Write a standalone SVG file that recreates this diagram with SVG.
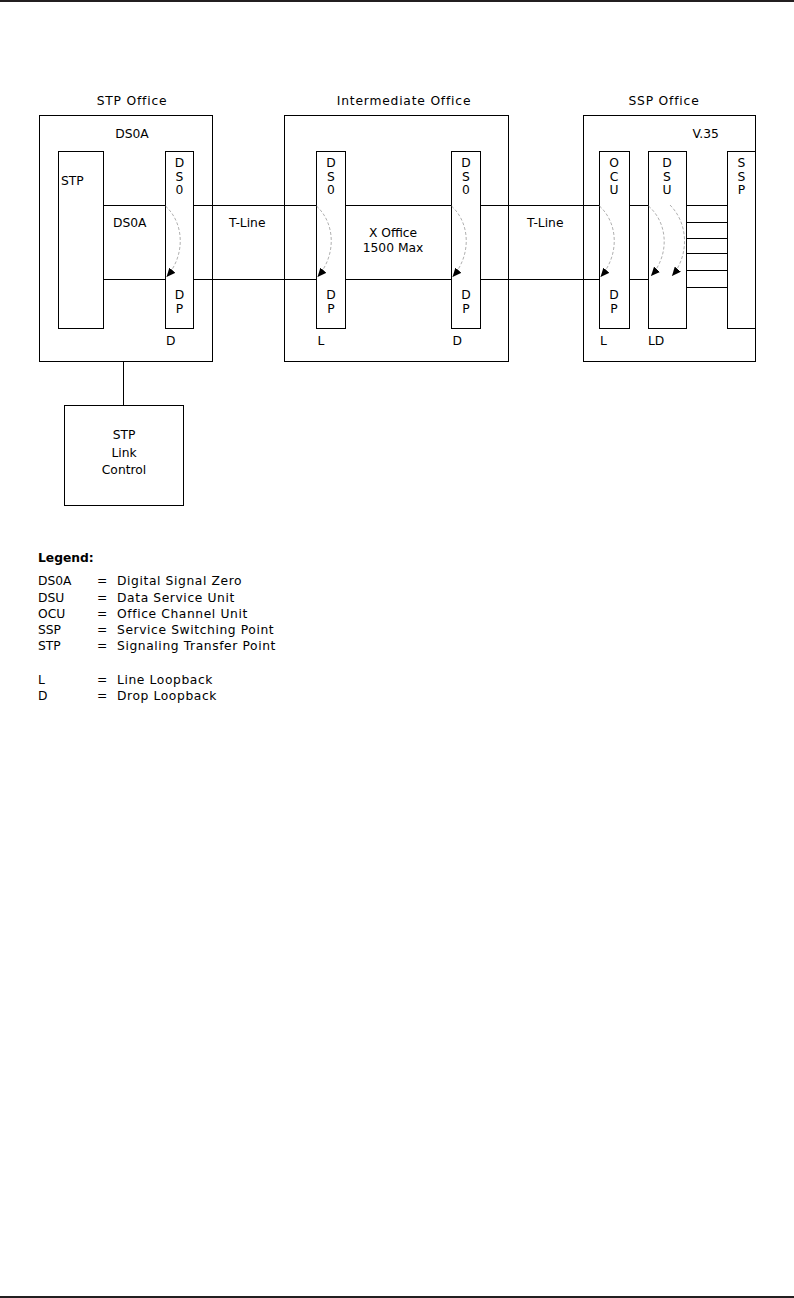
<svg xmlns="http://www.w3.org/2000/svg" width="794" height="1298" viewBox="0 0 794 1298">
<style>
.box{fill:none;stroke:#000;stroke-width:1}
.ln{fill:none;stroke:#000;stroke-width:1}
.arc{fill:none;stroke:#9a9a9a;stroke-width:0.8;stroke-dasharray:3,2}
text{font-family:"DejaVu Sans","Liberation Sans",sans-serif;font-size:12.3px;fill:#000}
.t{letter-spacing:0.8px}
.m{text-anchor:middle}
.lg{letter-spacing:0.6px}
.b{font-weight:bold}
</style>
<defs>
<marker id="ah" markerUnits="userSpaceOnUse" markerWidth="9" markerHeight="8" refX="9" refY="4" orient="auto">
<path d="M0,0 L9,4 L0,8 z" fill="#000"/>
</marker>
</defs>
<rect x="0" y="0" width="794" height="2" fill="#231f20"/>
<rect x="0" y="1296" width="794" height="2" fill="#231f20"/>

<g id="stp-office">
<rect class="box" x="39.5" y="115.5" width="173" height="246"/>
<text class="m t" x="132" y="105">STP Office</text>
<text class="m" x="132" y="138">DS0A</text>
</g>
<g id="stp">
<rect class="box" x="58.5" y="151.5" width="45" height="177"/>
<text x="61" y="185">STP</text>
</g>
<g id="ds0-stp">
<rect class="box" x="165.5" y="151.5" width="28" height="177"/>
<text class="m" x="179.5" y="167">D</text>
<text class="m" x="179.5" y="181">S</text>
<text class="m" x="179.5" y="194">0</text>
<text class="m" x="179.5" y="299">D</text>
<text class="m" x="179.5" y="313">P</text>
<text x="166" y="345">D</text>
</g>
<g id="inter-office">
<rect class="box" x="284.5" y="115.5" width="224" height="246"/>
<text class="m t" x="404" y="105">Intermediate Office</text>
<text class="m" x="393" y="237">X Office</text>
<text class="m" x="393" y="252">1500 Max</text>
</g>
<g id="ds0-inter-l">
<rect class="box" x="316.5" y="151.5" width="29" height="177"/>
<text class="m" x="331" y="167">D</text>
<text class="m" x="331" y="181">S</text>
<text class="m" x="331" y="194">0</text>
<text class="m" x="331" y="299">D</text>
<text class="m" x="331" y="313">P</text>
<text x="317.5" y="345">L</text>
</g>
<g id="ds0-inter-r">
<rect class="box" x="451.5" y="151.5" width="29" height="177"/>
<text class="m" x="466" y="167">D</text>
<text class="m" x="466" y="181">S</text>
<text class="m" x="466" y="194">0</text>
<text class="m" x="466" y="299">D</text>
<text class="m" x="466" y="313">P</text>
<text x="452.5" y="345">D</text>
</g>
<g id="ssp-office">
<rect class="box" x="583.5" y="115.5" width="172" height="246"/>
<text class="m t" x="664" y="105">SSP Office</text>
<text x="692.5" y="138">V.35</text>
</g>
<g id="ocu">
<rect class="box" x="599.5" y="151.5" width="30" height="177"/>
<text class="m" x="614" y="167">O</text>
<text class="m" x="614" y="181">C</text>
<text class="m" x="614" y="194">U</text>
<text class="m" x="614" y="299">D</text>
<text class="m" x="614" y="313">P</text>
<text x="600" y="345">L</text>
</g>
<g id="dsu">
<rect class="box" x="648.5" y="151.5" width="38" height="177"/>
<text class="m" x="667" y="167">D</text>
<text class="m" x="667" y="181">S</text>
<text class="m" x="667" y="194">U</text>
<text x="648" y="345">LD</text>
</g>
<g id="ssp">
<rect class="box" x="727.5" y="151.5" width="28" height="177"/>
<text class="m" x="741.5" y="167">S</text>
<text class="m" x="741.5" y="181">S</text>
<text class="m" x="741.5" y="194">P</text>
</g>
<g id="stp-link-control">
<rect class="box" x="64.5" y="405.5" width="119" height="100"/>
<text class="m" x="124" y="439">STP</text>
<text class="m" x="124" y="456.5">Link</text>
<text class="m" x="124" y="473.5">Control</text>
</g>

<g id="connectors">
<path class="ln" d="M103.5,205.5H165.5M193.5,205.5H316.5M345.5,205.5H451.5M480.5,205.5H599.5M629.5,205.5H648.5"/>
<path class="ln" d="M103.5,279.5H165.5M193.5,279.5H316.5M345.5,279.5H451.5M480.5,279.5H599.5M629.5,279.5H648.5"/>
<path class="ln" d="M686.5,205.5H727.5M686.5,222.5H727.5M686.5,238.5H727.5M686.5,253.5H727.5M686.5,270.5H727.5M686.5,287.5H727.5"/>
<path class="ln" d="M123.5,361.5V405.5"/>
<text x="113" y="227">DS0A</text>
<text x="229" y="227">T-Line</text>
<text x="527" y="227">T-Line</text>
<path class="arc" marker-end="url(#ah)" d="M165.5,206 C185,224 185,256 166.5,277"/>
<path class="arc" marker-end="url(#ah)" d="M316.5,206 C336,224 336,256 317.5,277"/>
<path class="arc" marker-end="url(#ah)" d="M451.5,206 C471,224 471,256 452.5,277"/>
<path class="arc" marker-end="url(#ah)" d="M599.5,206 C619,224 619,256 600.5,277"/>
<path class="arc" marker-end="url(#ah)" d="M648.5,206 C669,224 669,256 651,276"/>
<path class="arc" marker-end="url(#ah)" d="M670,205 C689,224 689,256 672,276"/>
</g>

<g id="legend">
<text class="b" x="38" y="562">Legend:</text>
<text x="38" y="585">DS0A</text><text x="97" y="585">=</text><text class="lg" x="117" y="585">Digital Signal Zero</text>
<text x="38" y="601.5">DSU</text><text x="97" y="601.5">=</text><text class="lg" x="117" y="601.5">Data Service Unit</text>
<text x="38" y="618">OCU</text><text x="97" y="618">=</text><text class="lg" x="117" y="618">Office Channel Unit</text>
<text x="38" y="634">SSP</text><text x="97" y="634">=</text><text class="lg" x="117" y="634">Service Switching Point</text>
<text x="38" y="650">STP</text><text x="97" y="650">=</text><text class="lg" x="117" y="650">Signaling Transfer Point</text>
<text x="38" y="684">L</text><text x="97" y="684">=</text><text class="lg" x="117" y="684">Line Loopback</text>
<text x="38" y="700">D</text><text x="97" y="700">=</text><text class="lg" x="117" y="700">Drop Loopback</text>
</g>
</svg>
